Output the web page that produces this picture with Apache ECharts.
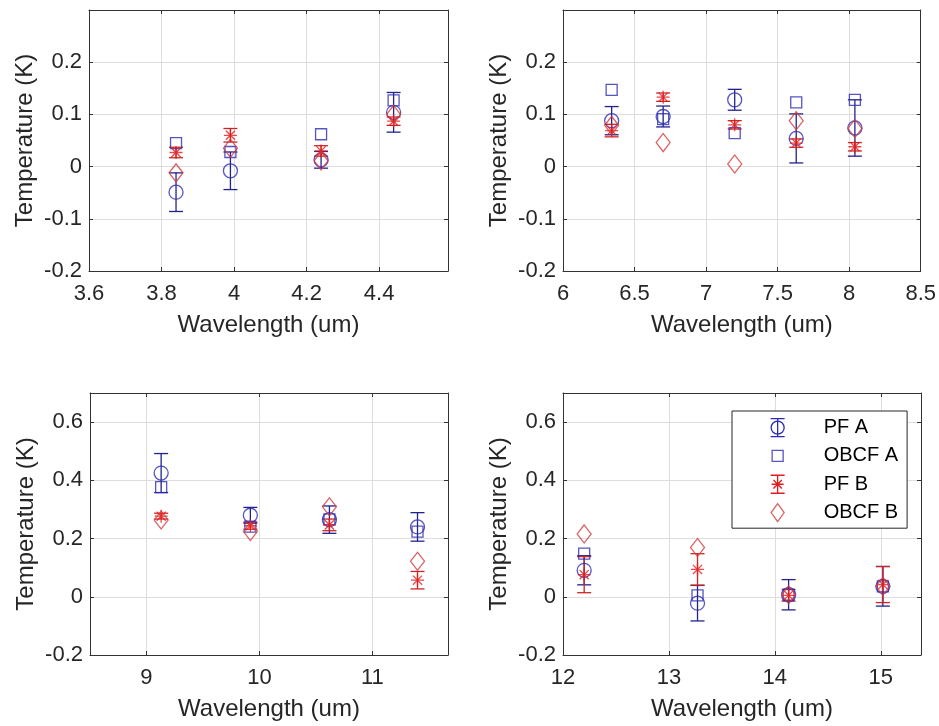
<!DOCTYPE html>
<html>
<head>
<meta charset="utf-8">
<script src="https://cdn.jsdelivr.net/npm/echarts@6/dist/echarts.min.js"></script>
<style>
  html, body { margin: 0; background: #fff; }
  #main { width: 939px; height: 726px; }
</style>
</head>
<body>
<div id="main"></div>
<script>
// panel 1 (3.6 - 4.6 um)
var wl1 = [3.84, 3.99, 4.24, 4.44];
var pfA1 = [-0.049, -0.008, 0.013, 0.104];
var pfAErr1 = [0.037, 0.036, 0.016, 0.038];
var obcfA1 = [0.045, 0.028, 0.062, 0.127];
var pfB1 = [0.027, 0.060, 0.030, 0.087];
var pfBErr1 = [0.010, 0.013, 0.010, 0.008];
var obcfB1 = [-0.012, 0.035, 0.011, 0.100];

// panel 2 (6 - 8.5 um)
var wl2 = [6.34, 6.70, 7.20, 7.63, 8.04];
var pfA2 = [0.088, 0.096, 0.128, 0.054, 0.074];
var pfAErr2 = [0.027, 0.020, 0.020, 0.047, 0.054];
var obcfA2 = [0.147, 0.091, 0.064, 0.123, 0.128];
var pfB2 = [0.069, 0.133, 0.080, 0.045, 0.038];
var pfBErr2 = [0.012, 0.008, 0.008, 0.008, 0.008];
var obcfB2 = [0.079, 0.046, 0.005, 0.088, 0.073];

// panel 3 (8.5 - 11.7 um)
var wl3 = [9.13, 9.92, 10.62, 11.40];
var pfA3 = [0.425, 0.280, 0.265, 0.240];
var pfAErr3 = [0.067, 0.027, 0.047, 0.049];
var obcfA3 = [0.377, 0.241, 0.266, 0.224];
var pfB3 = [0.277, 0.244, 0.247, 0.057];
var pfBErr3 = [0.010, 0.012, 0.020, 0.030];
var obcfB3 = [0.264, 0.224, 0.309, 0.122];

// panel 4 (12 - 15.4 um)
var wl4 = [12.20, 13.27, 14.13, 15.02];
var pfA4 = [0.091, -0.022, 0.007, 0.036];
var pfAErr4 = [0.050, 0.061, 0.052, 0.068];
var obcfA4 = [0.148, 0.005, 0.007, 0.036];
var pfB4 = [0.076, 0.094, 0.005, 0.042];
var pfBErr4 = [0.062, 0.054, 0.020, 0.062];
var obcfB4 = [0.216, 0.169, 0.007, 0.036];

var names = ['PF A', 'OBCF A', 'PF B', 'OBCF B'];

var FONT = '"Liberation Sans", Arial, sans-serif';
var TXT = '#262626';
var AX = '#333333';
var GRID = '#dedede';
var BLUE = '#2a2ab4', BLUE_BAR = '#22228e';
var RED = '#e41c1c', RED_BAR = '#cc2424', DIAM = '#d23c3c';
var ASTER = 'M0,-6L0,6M-6,0L6,0M-4.2,-4.2L4.2,4.2M-4.2,4.2L4.2,-4.2';
var PAD = 'M-9,-11M9,11';

var panels = [
  { grid: { left: 89, top: 10, width: 359, height: 261 },
    x: { min: 3.6, max: 4.59, interval: 0.2, hideMax: true },
    y: { min: -0.2, max: 0.3, interval: 0.1, hideMax: true },
    wl: wl1, pfA: pfA1, pfAErr: pfAErr1, obcfA: obcfA1, pfB: pfB1, pfBErr: pfBErr1, obcfB: obcfB1 },
  { grid: { left: 563, top: 10, width: 359, height: 261 },
    x: { min: 6, max: 8.5, interval: 0.5 },
    y: { min: -0.2, max: 0.3, interval: 0.1, hideMax: true },
    wl: wl2, pfA: pfA2, pfAErr: pfAErr2, obcfA: obcfA2, pfB: pfB2, pfBErr: pfBErr2, obcfB: obcfB2 },
  { grid: { left: 90, top: 393, width: 358, height: 262 },
    x: { min: 8.5, max: 11.67, fixStep: 1, hideMin: true, hideMax: true },
    y: { min: -0.2, max: 0.7, interval: 0.2, hideMax: true },
    wl: wl3, pfA: pfA3, pfAErr: pfAErr3, obcfA: obcfA3, pfB: pfB3, pfBErr: pfBErr3, obcfB: obcfB3 },
  { grid: { left: 563, top: 393, width: 358, height: 262 },
    x: { min: 12, max: 15.38, interval: 1, hideMax: true },
    y: { min: -0.2, max: 0.7, interval: 0.2, hideMax: true },
    wl: wl4, pfA: pfA4, pfAErr: pfAErr4, obcfA: obcfA4, pfB: pfB4, pfBErr: pfBErr4, obcfB: obcfB4 }
];

function scaleOpts (c) {
  var o = { type: 'value', min: c.min, max: c.max };
  if (c.interval) o.interval = c.interval;
  if (c.fixStep) { o.minInterval = c.fixStep; o.maxInterval = c.fixStep; }
  return o;
}

function makeAxis (c, gi, pos, main, title) {
  var a = scaleOpts(c);
  a.gridIndex = gi;
  a.position = pos;
  a.axisLine = { show: true, onZero: false, lineStyle: { color: AX, width: 1 } };
  a.axisTick = { show: true, inside: true, length: 4, lineStyle: { color: AX } };
  a.axisLabel = { show: main, color: TXT, fontSize: 22, fontFamily: FONT,
    margin: (pos === 'bottom') ? 12 : 7,
    showMinLabel: c.hideMin ? false : null,
    showMaxLabel: c.hideMax ? false : null };
  a.splitLine = { show: main, lineStyle: { color: GRID, width: 1 } };
  if (main) {
    a.name = title;
    a.nameLocation = 'middle';
    a.nameGap = (pos === 'bottom') ? 42 : 52;
    a.nameTextStyle = { color: TXT, fontSize: 24, fontFamily: FONT };
  }
  return a;
}

function errorItem (params, api) {
  var x = api.value(0);
  var top = api.coord([x, api.value(2)]);
  var bot = api.coord([x, api.value(1)]);
  var w = 7;
  var style = { stroke: api.visual('color'), lineWidth: 1.3 };
  return {
    type: 'group',
    children: [
      { type: 'line', shape: { x1: top[0], y1: top[1], x2: bot[0], y2: bot[1] }, style: style },
      { type: 'line', shape: { x1: top[0] - w, y1: top[1], x2: top[0] + w, y2: top[1] }, style: style },
      { type: 'line', shape: { x1: bot[0] - w, y1: bot[1], x2: bot[0] + w, y2: bot[1] }, style: style }
    ]
  };
}

function hollow (color) {
  return { color: 'rgba(0,0,0,0)', borderColor: color, borderWidth: 1.3 };
}

var grids = [], xAxes = [], yAxes = [], series = [];

panels.forEach(function (p, i) {
  grids.push(p.grid);
  xAxes.push(makeAxis(p.x, i, 'bottom', true, 'Wavelength (um)'));
  xAxes.push(makeAxis(p.x, i, 'top', false));
  yAxes.push(makeAxis(p.y, i, 'left', true, 'Temperature (K)'));
  yAxes.push(makeAxis(p.y, i, 'right', false));

  var ax = { xAxisIndex: 2 * i, yAxisIndex: 2 * i };
  function pts (vals) { return p.wl.map(function (w, k) { return [w, vals[k]]; }); }
  function bars (vals, err) { return p.wl.map(function (w, k) { return [w, vals[k] - err[k], vals[k] + err[k]]; }); }

  series.push(Object.assign({ name: names[0], type: 'custom', renderItem: errorItem,
    encode: { x: 0, y: [1, 2] }, itemStyle: { color: BLUE_BAR }, data: bars(p.pfA, p.pfAErr) }, ax));
  series.push(Object.assign({ name: names[0], type: 'scatter', symbol: 'circle', symbolSize: 14,
    itemStyle: hollow(BLUE), data: pts(p.pfA) }, ax));
  series.push(Object.assign({ name: names[1], type: 'scatter', symbol: 'rect', symbolSize: 11,
    itemStyle: hollow(BLUE), data: pts(p.obcfA) }, ax));
  series.push(Object.assign({ name: names[2], type: 'custom', renderItem: errorItem,
    encode: { x: 0, y: [1, 2] }, itemStyle: { color: RED_BAR }, data: bars(p.pfB, p.pfBErr) }, ax));
  series.push(Object.assign({ name: names[2], type: 'scatter', symbol: 'path://' + ASTER, symbolSize: 13,
    itemStyle: hollow(RED), data: pts(p.pfB) }, ax));
  series.push(Object.assign({ name: names[3], type: 'scatter', symbol: 'diamond', symbolSize: [14, 18],
    itemStyle: hollow(DIAM), data: pts(p.obcfB) }, ax));
});

var legendIcons = [
  PAD + 'M-7,-9L7,-9M0,-9L0,9M-7,9L7,9M6.5,0A6.5,6.5,0,1,1,-6.5,0A6.5,6.5,0,1,1,6.5,0',
  PAD + 'M-5.5,-5.5L5.5,-5.5L5.5,5.5L-5.5,5.5Z',
  PAD + 'M-7,-9L7,-9M0,-9L0,9M-7,9L7,9M-6,0L6,0M-4.2,-4.2L4.2,4.2M-4.2,4.2L4.2,-4.2',
  PAD + 'M0,-9L6.5,0L0,9L-6.5,0Z'
];
var legendColors = [BLUE, BLUE, RED, DIAM];

var chart = echarts.init(document.getElementById('main'));
chart.setOption({
  animation: false,
  backgroundColor: '#fff',
  grid: grids,
  xAxis: xAxes,
  yAxis: yAxes,
  legend: {
    orient: 'vertical',
    left: 732,
    top: 411,
    padding: [5, 9, 4, 36],
    itemGap: 5,
    itemWidth: 18,
    itemHeight: 22,
    selectedMode: false,
    borderColor: '#262626',
    borderWidth: 1,
    backgroundColor: '#fff',
    textStyle: { fontSize: 20, color: '#000', fontFamily: FONT, padding: [0, 0, 0, 32] },
    data: names.map(function (n, k) {
      return { name: n, icon: 'path://' + legendIcons[k], itemStyle: hollow(legendColors[k]) };
    })
  },
  series: series
});
</script>
</body>
</html>
